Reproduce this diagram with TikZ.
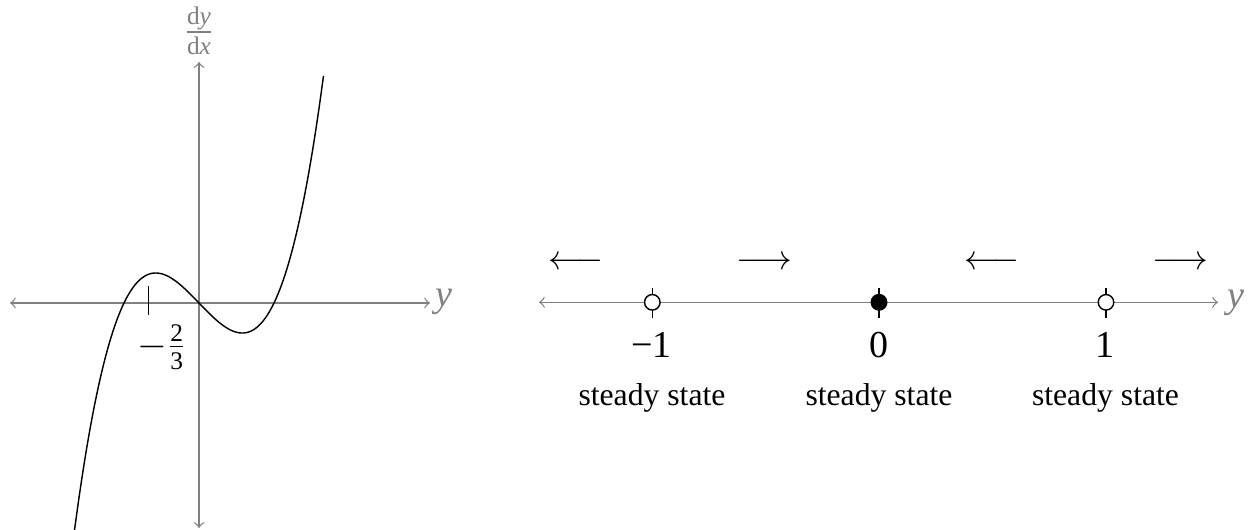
\documentclass[tikz,border=0pt]{standalone}
\usepackage{amsmath}
\usepackage{fontspec}
\setmainfont{Liberation Serif}
\begin{document}
\begin{tikzpicture}[x=0.3155pt,y=-0.3155pt,
  axis/.style={gray, line width=0.4pt},
  tickmark/.style={black, line width=0.45pt},
  curve/.style={black, line width=0.45pt},
  openpt/.style={circle, draw=black, fill=white, inner sep=0pt, minimum size=4.9pt, line width=0.45pt},
  fillpt/.style={circle, draw=black, fill=black, inner sep=0pt, minimum size=4.9pt, line width=0.45pt},
  axlabel/.style={gray, inner sep=0pt, font=\fontsize{12}{14}\selectfont},
  numlabel/.style={black, inner sep=0pt, font=\fontsize{12}{14}\selectfont},
  textlabel/.style={black, inner sep=0pt, font=\fontsize{10}{12}\selectfont},
  flow/.style={black, inner sep=0pt, font=\fontsize{10.5}{12}\selectfont}]
\useasboundingbox (0,0) rectangle (1259,529);
% ---------- left plot ----------
\coordinate (LL) at (10,303);
\coordinate (LR) at (430,303);
\coordinate (LT) at (199,62);
\coordinate (LB) at (199,528);
\draw[axis,<->] (LL) -- (LR);
\draw[axis,<->] (LB) -- (LT);
\node[axlabel] (ly) at (444,302) {\textit{y}};
\node[axlabel] (ldy) at (199,31) {$\frac{\text{d\textit{y}}}{\text{d\textit{x}}}$};
\draw[curve] plot[domain=-1.66:1.66,samples=121,smooth] ({199+75*\x},{303-78*(\x*\x*\x-\x)});
\coordinate (t1) at (148.5,286);
\coordinate (t2) at (148.5,315);
\draw[tickmark] (t1) -- (t2);
\node[numlabel] (fr) at (162,347) {$-\frac{\text{2}}{\text{3}}$};
% ---------- right plot ----------
\coordinate (RL) at (539,302.3);
\coordinate (RR) at (1218,302.3);
\draw[axis,<->] (RL) -- (RR);
\node[axlabel] (ry) at (1236,302.5) {\textit{y}};
\foreach \n/\px in {m/652.3, z/879, p/1106}{
  \coordinate (u\n) at (\px,288);
  \coordinate (d\n) at (\px,318);
  \draw[tickmark] (u\n) -- (d\n);
}
\node[openpt] (pm) at (652.3,302.3) {};
\node[fillpt] (pz) at (879,302.3) {};
\node[openpt] (pp) at (1106,302.3) {};
\node[numlabel] (lm) at (651.5,345) {−1};
\node[numlabel] (lz) at (879,345) {0};
\node[numlabel] (lp) at (1105,345) {1};
\node[textlabel] (sm) at (652,397.5) {steady state};
\node[textlabel] (sz) at (879,397.5) {steady state};
\node[textlabel] (sp) at (1105.5,397.5) {steady state};
\node[flow] (a1) at (576,263) {$\longleftarrow$};
\node[flow] (a2) at (764.5,263) {$\longrightarrow$};
\node[flow] (a3) at (992,263) {$\longleftarrow$};
\node[flow] (a4) at (1180.5,263) {$\longrightarrow$};
\end{tikzpicture}
\end{document}
